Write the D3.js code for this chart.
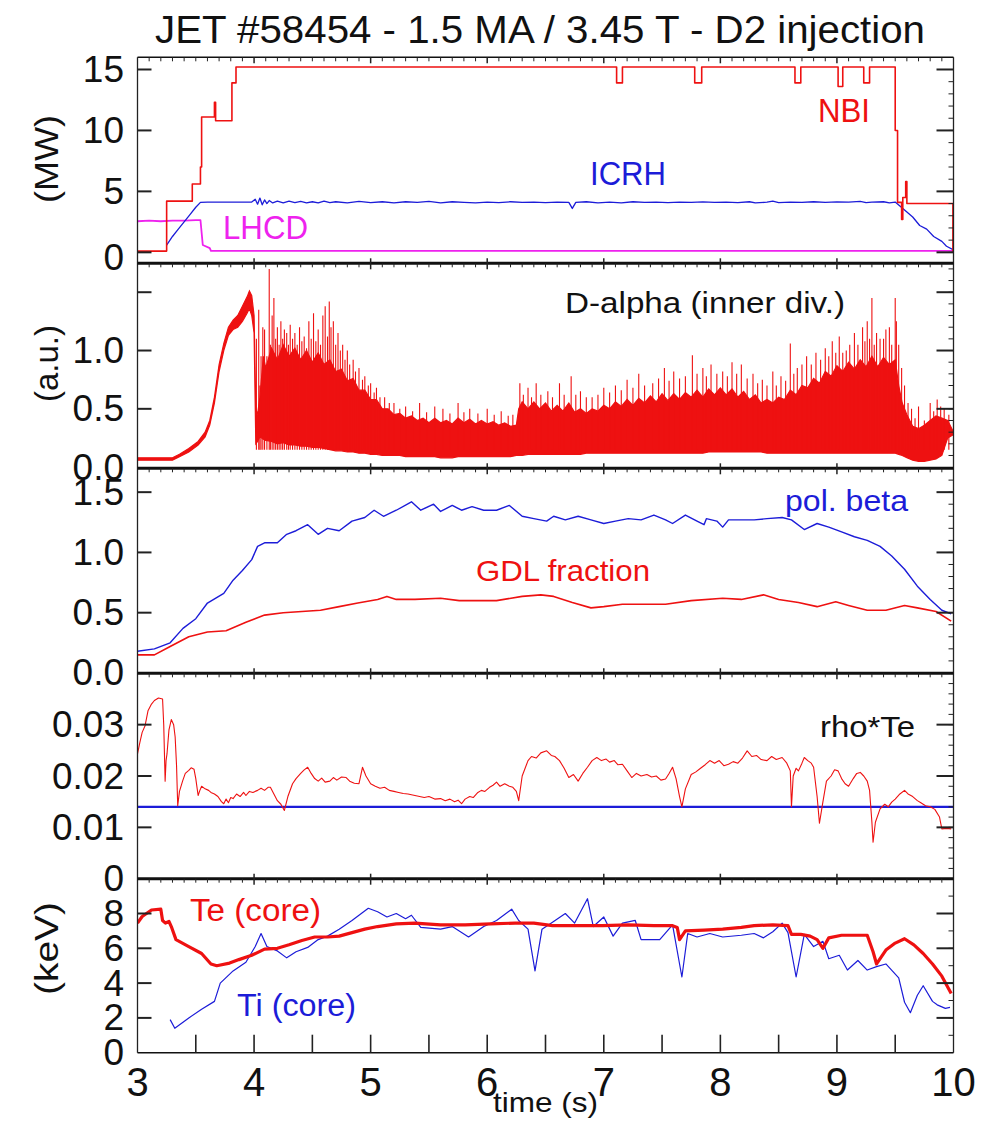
<!DOCTYPE html>
<html><head><meta charset="utf-8">
<script src="https://cdn.jsdelivr.net/npm/d3@7/dist/d3.min.js"></script>
<style>
body{margin:0;background:#fff}
text{font-family:"Liberation Sans",Arial,Helvetica,sans-serif}
</style></head>
<body><svg id="c" width="985" height="1128"></svg>
<script>
// ---------------- DATA ----------------
const titleText = "JET #58454 - 1.5 MA / 3.45 T - D2 injection";
const xTickValues = [3,4,5,6,7,8,9,10];
const xTickLabels = ["3","4","5","6","7","8","9","10"];

// Panel 1 : heating power (MW)
const nbiTime  = [3.0,3.25,3.47,3.54,3.55,3.66,3.67,3.81,3.845,7.11,7.16,7.78,7.84,8.64,8.69,9.01,9.05,9.23,9.28,9.50,9.52,9.555,9.565,9.59,9.60,9.995,10.0];
const nbiPower = [0.1,4.2,5.6,7.0,11.1,12.3,10.8,13.9,15.2,13.9,15.2,13.9,15.2,13.9,15.2,13.6,15.2,13.9,15.2,10.0,4.1,2.7,4.5,5.8,4.0,0.1,0.1];
const icrhTime  = [3.25,3.3,3.35,3.4,3.45,3.5,3.54,3.6,3.7,3.8,3.9,3.98,4.01,4.03,4.05,4.07,4.09,4.11,4.13,4.16,4.2,4.25,4.3,4.35,4.4,4.45,4.5,4.55,4.6,4.65,4.7,4.8,4.9,5.0,5.1,5.2,5.3,5.4,5.5,5.6,5.7,5.8,5.9,6.0,6.1,6.2,6.3,6.4,6.5,6.6,6.7,6.73,6.76,6.85,6.95,7.05,7.15,7.25,7.35,7.45,7.55,7.65,7.75,7.85,7.95,8.05,8.15,8.25,8.3,8.4,8.45,8.5,8.6,8.7,8.8,8.9,9.0,9.1,9.2,9.25,9.3,9.4,9.45,9.5,9.54,9.6,9.65,9.71,9.77,9.83,9.9,9.94,10.0];
const icrhPower = [0.6,1.3,1.9,2.5,3.1,3.7,4.1,4.12,4.12,4.12,4.12,4.12,4.35,3.95,4.45,3.9,4.3,4.0,4.25,4.05,4.2,4.05,4.2,4.08,4.18,4.05,4.15,4.05,4.2,4.08,4.15,4.05,4.18,4.08,4.15,4.05,4.15,4.1,4.18,4.05,4.15,4.1,4.05,4.12,4.08,4.15,4.1,4.12,4.08,4.12,4.1,3.6,4.1,4.15,4.05,4.12,4.05,4.15,4.1,4.12,4.08,4.12,4.1,4.14,4.1,4.12,4.08,4.15,4.05,4.12,4.2,4.08,4.12,4.1,4.15,4.1,4.14,4.12,4.18,4.08,4.12,4.15,4.05,4.12,3.8,3.3,2.9,2.2,1.9,1.3,0.9,0.5,0.2];
const lhcdTime  = [3.0,3.1,3.2,3.3,3.4,3.5,3.54,3.56,3.62,3.63,10.0];
const lhcdPower = [2.55,2.6,2.55,2.6,2.6,2.65,2.65,0.6,0.35,0.12,0.12];
const p1Ticks = [0,5,10,15], p1Labels = ["0","5","10","15"];

// Panel 2 : D-alpha (inner divertor), a.u. — band envelope and ELM spikes
const dalphaTime = [3.00,3.30,3.36,3.44,3.52,3.58,3.62,3.66,3.70,3.74,3.78,3.82,3.86,3.90,3.94,3.96,3.98,4.00,4.015,4.03,4.05,4.08,4.10,4.15,4.20,4.25,4.30,4.35,4.40,4.45,4.50,4.55,4.60,4.65,4.70,4.75,4.80,4.85,4.90,4.95,5.00,5.05,5.10,5.15,5.20,5.25,5.30,5.35,5.40,5.45,5.50,5.55,5.60,5.65,5.70,5.75,5.80,5.85,5.90,5.95,6.00,6.05,6.10,6.15,6.20,6.25,6.27,6.30,6.35,6.40,6.45,6.50,6.55,6.60,6.65,6.70,6.75,6.80,6.85,6.90,6.95,7.00,7.05,7.10,7.15,7.20,7.25,7.30,7.35,7.40,7.45,7.50,7.55,7.60,7.65,7.70,7.75,7.80,7.85,7.90,7.95,8.00,8.05,8.10,8.15,8.20,8.25,8.30,8.35,8.40,8.45,8.50,8.55,8.60,8.65,8.70,8.75,8.80,8.85,8.90,8.95,9.00,9.05,9.10,9.15,9.20,9.25,9.30,9.35,9.40,9.45,9.50,9.53,9.56,9.60,9.65,9.70,9.75,9.80,9.85,9.90,9.95,10.0];
const dalphaLow  = [0.06,0.06,0.09,0.13,0.19,0.26,0.36,0.55,0.82,1.00,1.13,1.18,1.20,1.25,1.32,1.36,1.30,1.15,0.20,0.22,0.26,0.24,0.23,0.22,0.20,0.21,0.19,0.19,0.18,0.18,0.17,0.17,0.16,0.15,0.14,0.14,0.13,0.13,0.12,0.12,0.11,0.11,0.10,0.10,0.10,0.10,0.09,0.09,0.09,0.09,0.09,0.09,0.08,0.08,0.08,0.09,0.09,0.09,0.09,0.09,0.09,0.09,0.09,0.09,0.09,0.10,0.10,0.10,0.11,0.11,0.11,0.11,0.11,0.11,0.11,0.11,0.11,0.11,0.12,0.12,0.12,0.12,0.12,0.12,0.12,0.12,0.12,0.12,0.12,0.12,0.12,0.12,0.12,0.12,0.12,0.12,0.12,0.12,0.12,0.13,0.13,0.13,0.13,0.13,0.13,0.13,0.13,0.13,0.13,0.12,0.12,0.12,0.12,0.12,0.12,0.12,0.12,0.12,0.12,0.12,0.12,0.12,0.12,0.12,0.12,0.12,0.12,0.12,0.12,0.12,0.12,0.12,0.11,0.10,0.08,0.06,0.05,0.05,0.06,0.07,0.10,0.25,0.28];
const dalphaHigh = [0.08,0.08,0.11,0.16,0.22,0.30,0.40,0.60,0.88,1.06,1.20,1.26,1.30,1.38,1.46,1.51,1.47,1.30,0.50,0.45,0.60,0.95,0.85,1.02,0.92,1.05,0.95,1.02,0.92,1.00,0.90,0.98,0.88,0.92,0.82,0.84,0.74,0.76,0.66,0.66,0.58,0.58,0.50,0.50,0.45,0.46,0.42,0.44,0.40,0.42,0.38,0.42,0.38,0.40,0.37,0.42,0.38,0.41,0.37,0.40,0.37,0.39,0.36,0.38,0.35,0.36,0.50,0.56,0.50,0.56,0.50,0.55,0.48,0.53,0.48,0.55,0.47,0.50,0.46,0.50,0.48,0.53,0.50,0.56,0.52,0.58,0.53,0.59,0.55,0.61,0.56,0.63,0.57,0.63,0.58,0.64,0.60,0.66,0.60,0.67,0.62,0.68,0.62,0.67,0.60,0.65,0.58,0.62,0.55,0.58,0.55,0.60,0.58,0.66,0.62,0.70,0.68,0.76,0.72,0.82,0.78,0.87,0.82,0.90,0.84,0.92,0.86,0.95,0.86,0.94,0.88,0.92,0.70,0.55,0.45,0.35,0.33,0.36,0.40,0.44,0.42,0.40,0.30];
const dalphaSpikeTime = [4.02,4.04,4.05,4.06,4.075,4.09,4.11,4.13,4.14,4.155,4.17,4.185,4.20,4.215,4.23,4.245,4.26,4.28,4.295,4.31,4.33,4.35,4.37,4.39,4.41,4.43,4.45,4.47,4.49,4.51,4.53,4.55,4.57,4.59,4.61,4.63,4.645,4.66,4.68,4.70,4.72,4.74,4.76,4.78,4.80,4.82,4.85,4.87,4.90,4.93,4.95,4.98,5.00,5.03,5.05,5.08,5.12,5.16,5.20,5.25,5.30,5.36,5.42,5.48,5.55,5.62,5.68,5.75,5.80,5.85,5.92,6.00,6.06,6.12,6.18,6.22,6.28,6.31,6.35,6.38,6.42,6.46,6.52,6.56,6.62,6.66,6.72,6.76,6.80,6.85,6.90,6.95,7.00,7.05,7.10,7.15,7.20,7.25,7.30,7.35,7.42,7.47,7.52,7.56,7.60,7.65,7.70,7.76,7.80,7.85,7.88,7.92,7.97,8.02,8.06,8.10,8.14,8.18,8.23,8.28,8.32,8.36,8.40,8.45,8.48,8.52,8.56,8.60,8.63,8.66,8.70,8.74,8.78,8.82,8.86,8.90,8.93,8.96,8.99,9.02,9.05,9.08,9.11,9.15,9.18,9.22,9.24,9.26,9.28,9.30,9.32,9.34,9.37,9.40,9.42,9.45,9.47,9.50,9.51,9.53,9.555,9.58,9.61,9.64,9.67,9.70,9.75,9.80,9.83,9.86,9.89,9.92,9.96];
const dalphaSpikePeak = [1.10,1.35,0.70,0.95,1.20,1.18,0.95,1.70,1.05,1.30,1.45,1.10,1.20,1.05,1.25,1.10,1.18,1.15,1.05,1.22,1.10,1.15,1.05,1.20,1.08,1.12,1.02,1.25,1.10,1.32,1.08,1.18,1.05,1.30,1.38,1.12,1.42,1.20,1.25,1.05,1.15,1.00,1.05,0.92,1.00,0.88,0.92,0.82,0.85,0.75,0.78,0.70,0.72,0.64,0.68,0.60,0.60,0.55,0.55,0.50,0.52,0.48,0.55,0.47,0.52,0.50,0.46,0.55,0.47,0.50,0.46,0.50,0.45,0.48,0.44,0.45,0.72,0.62,0.68,0.60,0.72,0.62,0.65,0.60,0.72,0.62,0.78,0.62,0.65,0.60,0.60,0.62,0.68,0.64,0.70,0.66,0.75,0.68,0.80,0.70,0.72,0.76,0.85,0.74,0.82,0.76,0.78,0.96,0.80,0.85,0.78,0.88,0.80,0.82,0.78,0.90,0.80,0.88,0.76,0.80,0.72,0.75,0.70,0.82,0.70,0.78,0.74,1.06,0.80,0.85,0.88,0.95,0.88,0.98,0.92,1.02,0.95,1.08,0.98,1.12,0.98,1.00,1.05,1.15,1.05,1.20,1.08,1.25,1.10,1.45,1.05,1.15,1.10,1.10,1.18,1.20,1.05,1.45,1.25,1.05,0.85,0.70,0.55,0.50,0.42,0.52,0.40,0.55,0.48,0.58,0.52,0.50,0.45];
const p2Ticks = [0,0.5,1.0,1.5], p2Labels = ["0.0","0.5","1.0",""];

// Panel 3 : poloidal beta and Greenwald fraction
const betaTime = [3.0,3.145,3.28,3.39,3.5,3.6,3.74,3.82,3.9,3.98,4.03,4.09,4.2,4.28,4.36,4.46,4.55,4.63,4.73,4.84,4.95,5.03,5.11,5.22,5.35,5.43,5.54,5.6,5.7,5.78,5.87,5.97,6.08,6.19,6.3,6.4,6.51,6.57,6.67,6.78,6.89,7.0,7.1,7.21,7.32,7.43,7.53,7.59,7.7,7.8,7.86,7.88,7.97,8.02,8.07,8.18,8.29,8.4,8.53,8.61,8.72,8.83,8.93,9.04,9.15,9.26,9.37,9.47,9.58,9.69,9.8,9.9,9.98];
const betaPol  = [0.18,0.2,0.25,0.37,0.45,0.58,0.66,0.77,0.85,0.94,1.05,1.08,1.08,1.15,1.18,1.23,1.15,1.2,1.18,1.26,1.29,1.35,1.30,1.35,1.42,1.35,1.40,1.34,1.39,1.35,1.38,1.35,1.35,1.39,1.30,1.28,1.26,1.30,1.27,1.30,1.27,1.24,1.26,1.28,1.27,1.31,1.27,1.24,1.31,1.26,1.23,1.28,1.26,1.21,1.27,1.27,1.27,1.28,1.29,1.27,1.19,1.24,1.21,1.17,1.13,1.10,1.05,0.97,0.86,0.72,0.61,0.52,0.49];
const gdlTime = [3.0,3.145,3.28,3.44,3.6,3.76,3.93,4.09,4.25,4.41,4.57,4.73,4.89,5.06,5.14,5.22,5.38,5.6,5.76,6.08,6.3,6.46,6.57,6.73,6.89,7.0,7.16,7.53,7.75,8.02,8.18,8.37,8.5,8.67,8.83,8.99,9.1,9.26,9.42,9.58,9.69,9.85,9.98];
const gdlFraction = [0.15,0.15,0.22,0.30,0.34,0.35,0.42,0.48,0.50,0.51,0.52,0.55,0.58,0.61,0.635,0.61,0.61,0.62,0.60,0.60,0.635,0.648,0.635,0.585,0.54,0.55,0.57,0.57,0.60,0.62,0.61,0.648,0.61,0.585,0.55,0.59,0.56,0.52,0.52,0.56,0.54,0.51,0.43];
const p3Ticks = [0,0.5,1.0,1.5], p3Labels = ["0.0","0.5","1.0","1.5"];

// Panel 4 : rho* (Te)
const rhoTime = [3.00,3.02,3.04,3.065,3.09,3.12,3.145,3.18,3.215,3.225,3.237,3.245,3.253,3.27,3.29,3.31,3.323,3.335,3.345,3.36,3.388,3.41,3.44,3.46,3.485,3.50,3.52,3.535,3.55,3.58,3.61,3.63,3.66,3.69,3.72,3.74,3.76,3.78,3.80,3.82,3.85,3.88,3.91,3.93,3.96,3.99,4.03,4.06,4.09,4.12,4.14,4.17,4.20,4.23,4.26,4.29,4.33,4.36,4.40,4.43,4.46,4.49,4.52,4.55,4.58,4.61,4.65,4.68,4.71,4.75,4.79,4.82,4.86,4.90,4.93,4.96,5.00,5.04,5.08,5.12,5.16,5.20,5.24,5.28,5.32,5.38,5.42,5.46,5.50,5.55,5.60,5.64,5.68,5.72,5.75,5.78,5.81,5.85,5.88,5.92,5.95,5.98,6.02,6.05,6.08,6.11,6.15,6.19,6.22,6.25,6.27,6.30,6.35,6.38,6.42,6.46,6.51,6.55,6.58,6.62,6.66,6.70,6.74,6.78,6.82,6.86,6.90,6.94,6.98,7.02,7.05,7.09,7.12,7.16,7.20,7.24,7.28,7.32,7.37,7.41,7.45,7.49,7.53,7.56,7.59,7.62,7.65,7.67,7.70,7.75,7.79,7.83,7.87,7.91,7.95,7.99,8.03,8.07,8.11,8.15,8.19,8.23,8.27,8.31,8.35,8.40,8.44,8.48,8.53,8.57,8.60,8.61,8.625,8.65,8.67,8.70,8.72,8.75,8.78,8.80,8.83,8.85,8.88,8.91,8.95,8.98,9.01,9.04,9.07,9.10,9.14,9.17,9.20,9.23,9.26,9.28,9.30,9.31,9.33,9.37,9.41,9.44,9.47,9.50,9.54,9.58,9.61,9.65,9.69,9.72,9.76,9.80,9.84,9.88,9.90,9.94,9.98];
const rhoTe = [0.0243,0.0265,0.0285,0.0298,0.0327,0.0340,0.0347,0.0352,0.0350,0.0300,0.0190,0.0230,0.0243,0.0290,0.0310,0.0300,0.0276,0.0220,0.0142,0.0170,0.0191,0.0205,0.0211,0.0216,0.0213,0.0195,0.0162,0.0172,0.0180,0.0175,0.0172,0.0168,0.0165,0.0160,0.0150,0.0146,0.0155,0.0148,0.0158,0.0156,0.0165,0.0160,0.0168,0.0162,0.0170,0.0168,0.0172,0.0176,0.0172,0.0178,0.0178,0.0165,0.0152,0.0145,0.0133,0.0160,0.0185,0.0195,0.0205,0.0212,0.0217,0.0205,0.0195,0.0190,0.0196,0.0188,0.0190,0.0197,0.0192,0.0198,0.0197,0.0190,0.0186,0.0185,0.0217,0.0200,0.0185,0.0180,0.0176,0.0178,0.0172,0.0170,0.0168,0.0166,0.0165,0.0162,0.0160,0.0158,0.0160,0.0155,0.0156,0.0152,0.0155,0.0150,0.0153,0.0146,0.0155,0.0160,0.0158,0.0168,0.0172,0.0170,0.0178,0.0182,0.0188,0.0180,0.0185,0.0180,0.0178,0.0170,0.0152,0.0200,0.0230,0.0238,0.0235,0.0245,0.0249,0.0240,0.0238,0.0230,0.0215,0.0197,0.0203,0.0190,0.0205,0.0217,0.0230,0.0236,0.0230,0.0233,0.0227,0.0230,0.0222,0.0223,0.0210,0.0197,0.0205,0.0200,0.0203,0.0198,0.0200,0.0192,0.0194,0.0205,0.0217,0.0195,0.0160,0.0140,0.0175,0.0203,0.0208,0.0215,0.0222,0.0230,0.0225,0.0230,0.0220,0.0223,0.0228,0.0225,0.0235,0.0249,0.0238,0.0240,0.0232,0.0230,0.0238,0.0232,0.0236,0.0225,0.0210,0.0140,0.0200,0.0215,0.0210,0.0225,0.0236,0.0230,0.0225,0.0217,0.0160,0.0108,0.0150,0.0190,0.0200,0.0212,0.0210,0.0195,0.0185,0.0180,0.0195,0.0205,0.0207,0.0200,0.0190,0.0172,0.0110,0.0071,0.0110,0.0136,0.0145,0.0140,0.0149,0.0155,0.0165,0.0172,0.0165,0.0160,0.0152,0.0148,0.0142,0.0140,0.0135,0.0120,0.0097,0.0098,0.0097];
const rhoRefTime = [3.0,10.0];
const rhoRefValue = [0.014,0.014];
const p4Ticks = [0,0.01,0.02,0.03], p4Labels = ["0","0.01","0.02","0.03"];

// Panel 5 : core temperatures (keV)
const teTime = [3.0,3.04,3.12,3.2,3.215,3.24,3.27,3.29,3.33,3.44,3.55,3.63,3.68,3.79,3.87,3.98,4.09,4.2,4.3,4.41,4.52,4.63,4.73,4.84,4.95,5.06,5.22,5.38,5.6,5.81,6.03,6.24,6.4,6.56,6.78,6.99,7.21,7.43,7.59,7.63,7.65,7.7,7.86,8.02,8.18,8.29,8.45,8.58,8.61,8.69,8.77,8.83,8.88,8.93,9.04,9.15,9.26,9.31,9.34,9.42,9.5,9.58,9.66,9.74,9.82,9.9,9.98];
const teCore = [7.45,7.83,8.2,8.25,7.6,7.45,7.54,7.25,6.5,6.1,5.7,5.1,5.0,5.15,5.35,5.6,5.95,6.0,6.2,6.45,6.65,6.65,6.7,6.9,7.1,7.25,7.4,7.45,7.35,7.35,7.4,7.45,7.45,7.3,7.3,7.3,7.35,7.3,7.3,7.2,6.5,7.0,7.05,7.1,7.2,7.3,7.35,7.3,6.8,6.8,6.7,6.5,6.0,6.6,6.75,6.75,6.75,5.8,5.1,5.9,6.3,6.55,6.2,5.7,5.1,4.4,3.4];
const tiTime = [3.28,3.32,3.44,3.55,3.66,3.71,3.82,3.93,4.01,4.06,4.11,4.2,4.28,4.36,4.46,4.55,4.63,4.73,4.84,4.98,5.06,5.14,5.22,5.3,5.35,5.43,5.6,5.7,5.84,5.97,6.08,6.21,6.27,6.35,6.41,6.47,6.56,6.67,6.75,6.86,6.91,7.0,7.08,7.16,7.27,7.32,7.48,7.59,7.67,7.72,7.8,7.91,8.02,8.18,8.29,8.37,8.45,8.53,8.58,8.65,8.72,8.8,8.88,8.93,9.02,9.09,9.18,9.26,9.34,9.42,9.53,9.58,9.63,9.69,9.74,9.82,9.86,9.93,9.97];
const tiCore = [1.9,1.4,2.0,2.5,2.95,4.0,4.7,5.2,6.1,6.85,6.1,5.85,5.45,5.8,6.05,6.5,6.7,7.1,7.6,8.3,8.1,7.8,8.0,7.7,7.9,7.2,7.1,7.25,6.65,7.25,7.6,8.25,7.6,7.1,4.7,7.1,7.5,8.0,7.45,8.85,7.25,7.8,6.7,7.45,7.6,6.5,6.5,7.35,4.35,6.85,6.65,6.85,6.65,6.75,6.85,6.6,6.95,7.45,6.9,4.35,6.8,6.1,6.4,5.4,5.6,4.75,5.3,4.75,4.95,5.1,4.3,2.9,2.3,3.3,3.85,2.95,2.75,2.55,2.6];
const p5Ticks = [0,2,4,6,8], p5Labels = ["0","2","4","6","8"];

// ---------------- LAYOUT ----------------
const W = 985, H = 1128;
const RED = "#ee1111", BLUE = "#1c1cd8", MAG = "#ee22ee";
const xL = 137.5, xR = 953.5;
const B = [57.3, 263.3, 468.3, 673.3, 878.7, 1052.7];
const x = d3.scaleLinear().domain([3,10]).range([xL, xR]);
const y1 = d3.scaleLinear().domain([-0.9,16]).range([B[1], B[0]]);
const y2 = d3.scaleLinear().domain([-0.01,1.748]).range([B[2], B[1]]);
const y3 = d3.scaleLinear().domain([-0.003,1.698]).range([B[3], B[2]]);
const y4 = d3.scaleLinear().domain([0,0.04]).range([B[4], B[3]]);
const y5 = d3.scaleLinear().domain([0,10]).range([B[5], B[4]]);

const svg = d3.select("#c");
svg.append("rect").attr("width",W).attr("height",H).attr("fill","#fff");
const defs = svg.append("defs");
const pan = [];
for (let i=0;i<5;i++){
  defs.append("clipPath").attr("id","cp"+i).append("rect")
    .attr("x",xL).attr("y",B[i]).attr("width",xR-xL).attr("height",B[i+1]-B[i]);
  pan.push(svg.append("g").attr("clip-path","url(#cp"+i+")"));
}
const pts = (ts,vs)=>ts.map((t,i)=>[t,vs[i]]);
function line(g, ts, vs, y, color, w, curve){
  g.append("path").datum(pts(ts,vs))
   .attr("d", d3.line().x(d=>x(d[0])).y(d=>y(d[1])).curve(curve||d3.curveLinear))
   .attr("fill","none").attr("stroke",color).attr("stroke-width",w)
   .attr("stroke-linejoin","round");
}

// Panel 1
line(pan[0], lhcdTime, lhcdPower, y1, MAG, 1.8);
line(pan[0], icrhTime, icrhPower, y1, BLUE, 1.3);
line(pan[0], nbiTime, nbiPower, y1, RED, 1.6, d3.curveStepAfter);

// Panel 2 : envelope + spikes
const env = dalphaTime.map((t,i)=>[t,dalphaLow[i],dalphaHigh[i]]);
pan[1].append("path").datum(env)
  .attr("d", d3.area().x(d=>x(d[0])).y0(d=>y2(d[1])).y1(d=>y2(d[2])))
  .attr("fill",RED).attr("stroke",RED).attr("stroke-width",1.2);
pan[1].selectAll("line.sp").data(pts(dalphaSpikeTime,dalphaSpikePeak)).join("line")
  .attr("x1",d=>x(d[0])).attr("x2",d=>x(d[0]))
  .attr("y1",y2(0.15)).attr("y2",d=>y2(d[1]))
  .attr("stroke",RED).attr("stroke-width",1.1);

// Panel 3
line(pan[2], betaTime, betaPol, y3, BLUE, 1.4);
line(pan[2], gdlTime, gdlFraction, y3, RED, 1.6);

// Panel 4
line(pan[3], rhoRefTime, rhoRefValue, y4, BLUE, 2.2);
line(pan[3], rhoTime, rhoTe, y4, RED, 1.1);

// Panel 5
line(pan[4], tiTime, tiCore, y5, BLUE, 1.2);
line(pan[4], teTime, teCore, y5, RED, 3.2);

// ---------------- AXES ----------------
const ax = svg.append("g").attr("stroke","#222");
ax.append("line").attr("x1",xL).attr("x2",xL).attr("y1",B[0]).attr("y2",B[5]).attr("stroke-width",1.3);
ax.append("line").attr("x1",xR).attr("x2",xR).attr("y1",B[0]).attr("y2",B[5]).attr("stroke-width",1.3);
B.forEach((b,i)=>{
  ax.append("line").attr("x1",xL).attr("x2",xR).attr("y1",b).attr("y2",b)
    .attr("stroke","#111").attr("stroke-width",(i===0||i===5)?1.6:3);
});
for (let i=0;i<5;i++){
  const b = B[i];
  d3.range(31,100).map(v=>v/10).forEach(t=>{
    const major = Math.abs(t-Math.round(t))<1e-6;
    ax.append("line").attr("x1",x(t)).attr("x2",x(t))
      .attr("y1", major && i>0 ? b-5 : b).attr("y2", b + (major?6:4))
      .attr("stroke-width", major?1.5:1);
  });
}
d3.range(7,20).map(v=>v/2).forEach(t=>{
  ax.append("line").attr("x1",x(t)).attr("x2",x(t)).attr("y1",B[5]).attr("y2",B[5]-18).attr("stroke-width",1.6);
});
const panelsY = [
  {y:y1, ticks:p1Ticks, labels:p1Labels, minor:d3.range(0,16,1)},
  {y:y2, ticks:p2Ticks, labels:p2Labels, minor:d3.range(0,1.75,0.1)},
  {y:y3, ticks:p3Ticks, labels:p3Labels, minor:d3.range(0,1.7,0.1)},
  {y:y4, ticks:p4Ticks, labels:p4Labels, minor:d3.range(0,0.04,0.002)},
  {y:y5, ticks:p5Ticks, labels:p5Labels, minor:d3.range(0,10,1)}
];
const lab = svg.append("g").attr("fill","#111");
panelsY.forEach((p,i)=>{
  p.minor.forEach(v=>{
    const yy = p.y(v);
    if (yy < B[i]+2 || yy > B[i+1]-2) return;
    ax.append("line").attr("x1",xR-5).attr("x2",xR).attr("y1",yy).attr("y2",yy).attr("stroke-width",1);
  });
  p.ticks.forEach((v,k)=>{
    const yy = p.y(v);
    if (yy > B[i]+2 && yy < B[i+1]-2){
      ax.append("line").attr("x1",xL).attr("x2",xL+14).attr("y1",yy).attr("y2",yy).attr("stroke-width",2);
      ax.append("line").attr("x1",xR-17).attr("x2",xR).attr("y1",yy).attr("y2",yy).attr("stroke-width",2);
    }
    if (p.labels[k]) lab.append("text").attr("x",124).attr("y",yy + (i===0&&v===0?5:0))
      .attr("text-anchor","end").attr("dominant-baseline","central")
      .attr("font-size",37).text(p.labels[k]);
  });
});
xTickValues.forEach((v,k)=>{
  lab.append("text").attr("x",x(v)).attr("y",1082).attr("text-anchor","middle")
    .attr("dominant-baseline","central").attr("font-size",40).text(xTickLabels[k]);
});

// ---------------- TEXT ----------------
function label(txt, x0, x1, cy, size, color){
  svg.append("text").attr("x",(x0+x1)/2).attr("y",cy).attr("text-anchor","middle")
    .attr("dominant-baseline","central").attr("font-size",size).attr("fill",color)
    .attr("textLength",x1-x0).attr("lengthAdjust","spacingAndGlyphs").text(txt);
}
label(titleText, 155, 925, 30, 38, "#111");
label("NBI", 818, 870, 110, 33, RED);
label("ICRH", 590, 666, 173, 33, BLUE);
label("LHCD", 223, 308, 227, 33, MAG);
label("D-alpha (inner div.)", 565, 845, 302, 30, "#111");
label("pol. beta", 785, 908, 500, 30, BLUE);
label("GDL fraction", 476, 650, 570, 30, RED);
label("rho*Te", 820, 915, 726, 30, "#111");
label("Te (core)", 190, 321, 910, 31, RED);
label("Ti (core)", 237, 356, 1005, 31, BLUE);
label("time (s)", 493, 598, 1102, 28, "#111");
function vlabel(txt, cx, y0, y1){
  svg.append("text").attr("transform",`translate(${cx},${(y0+y1)/2}) rotate(-90)`)
    .attr("text-anchor","middle").attr("dominant-baseline","central")
    .attr("font-size",33).attr("fill","#111")
    .attr("textLength",y1-y0).attr("lengthAdjust","spacingAndGlyphs").text(txt);
}
vlabel("(MW)", 46, 115, 203);
vlabel("(a.u.)", 46, 325, 402);
vlabel("(keV)", 46, 902, 995);
</script></body></html>
